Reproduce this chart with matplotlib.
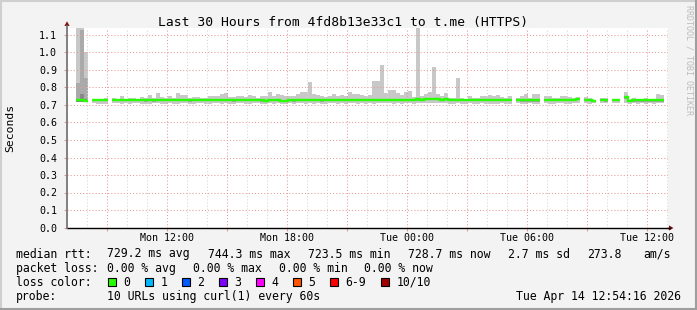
import numpy as np
import pandas as pd
import matplotlib
matplotlib.use("Agg")
import matplotlib.pyplot as plt
import matplotlib.dates as mdates
from matplotlib.lines import Line2D
from matplotlib.patches import Polygon, Rectangle
from matplotlib.ticker import FuncFormatter, MultipleLocator

nan = np.nan

# ── data: 12 minute bins, seconds ────────────────────────────────────────────
BIN_START = "2026-04-13 06:51"
BIN_MINUTES = 12

SMOKE_HI = [
    0.736, nan, nan, 1.138, 1.138, 1.001, nan, 0.736, 0.735, 0.736,
    0.742, nan, 0.742, 0.734, 0.753, 0.734, 0.738, 0.738, 0.734, 0.748,
    0.738, 0.757, 0.742, 0.769, 0.746, 0.742, 0.750, 0.742, 0.769, 0.757,
    0.757, 0.738, 0.746, 0.746, 0.742, 0.742, 0.753, 0.750, 0.750, 0.765,
    0.769, 0.746, 0.746, 0.750, 0.750, 0.746, 0.757, 0.753, 0.742, 0.750,
    0.753, 0.772, 0.753, 0.761, 0.757, 0.750, 0.753, 0.750, 0.765, 0.776,
    0.776, 0.833, 0.765, 0.757, 0.750, 0.746, 0.753, 0.761, 0.750, 0.757,
    0.750, 0.772, 0.761, 0.761, 0.757, 0.750, 0.757, 0.837, 0.837, 0.929,
    0.769, 0.788, 0.788, 0.769, 0.757, 0.776, 0.780, 0.746, 1.138, 0.750,
    0.765, 0.772, 0.917, 0.761, 0.753, 0.769, 0.742, 0.742, 0.856, 0.738,
    0.734, 0.750, 0.742, 0.738, 0.753, 0.750, 0.757, 0.750, 0.757, 0.746,
    0.742, 0.753, nan, 0.738, 0.753, 0.761, 0.742, 0.765, 0.765, nan,
    0.750, 0.750, 0.742, 0.742, 0.753, 0.750, 0.746, 0.738, 0.746, nan,
    0.746, 0.738, 0.727, nan, 0.738, 0.738, nan, 0.734, 0.734, nan,
    0.776, 0.730, 0.742, 0.734, 0.734, 0.742, 0.730, 0.734, 0.765, 0.757,
]

SMOKE_LO = [
    0.728, nan, nan, 0.718, 0.718, 0.716, nan, 0.712, 0.708, 0.704,
    0.705, nan, 0.712, 0.710, 0.708, 0.712, 0.706, 0.710, 0.712, 0.704,
    0.708, 0.704, 0.710, 0.712, 0.706, 0.708, 0.712, 0.708, 0.704, 0.710,
    0.712, 0.708, 0.704, 0.710, 0.712, 0.708, 0.706, 0.712, 0.710, 0.708,
    0.712, 0.706, 0.704, 0.710, 0.712, 0.706, 0.708, 0.712, 0.710, 0.705,
    0.708, 0.712, 0.706, 0.710, 0.704, 0.708, 0.712, 0.706, 0.710, 0.712,
    0.708, 0.712, 0.706, 0.710, 0.704, 0.708, 0.712, 0.710, 0.706, 0.712,
    0.708, 0.710, 0.712, 0.706, 0.712, 0.708, 0.712, 0.708, 0.710, 0.712,
    0.712, 0.710, 0.708, 0.712, 0.706, 0.710, 0.712, 0.708, 0.712, 0.714,
    0.714, 0.712, 0.714, 0.712, 0.710, 0.712, 0.708, 0.706, 0.712, 0.708,
    0.706, 0.710, 0.704, 0.706, 0.710, 0.704, 0.706, 0.708, 0.704, 0.710,
    0.706, 0.708, nan, 0.712, 0.706, 0.704, 0.712, 0.706, 0.708, nan,
    0.712, 0.708, 0.704, 0.710, 0.712, 0.708, 0.706, 0.712, 0.714, nan,
    0.712, 0.708, 0.712, nan, 0.710, 0.712, nan, 0.712, 0.710, nan,
    0.712, 0.706, 0.710, 0.708, 0.712, 0.704, 0.710, 0.708, 0.712, 0.710,
]

MEDIAN = [
    0.731, nan, nan, 0.731, 0.728, 0.725, nan, 0.729, 0.729, 0.728,
    0.729, nan, 0.729, 0.728, 0.730, 0.729, 0.730, 0.730, 0.729, 0.728,
    0.726, 0.730, 0.726, 0.729, 0.729, 0.729, 0.728, 0.729, 0.730, 0.729,
    0.729, 0.726, 0.728, 0.729, 0.729, 0.728, 0.729, 0.729, 0.730, 0.729,
    0.729, 0.728, 0.726, 0.729, 0.729, 0.728, 0.729, 0.729, 0.728, 0.727,
    0.725, 0.728, 0.729, 0.729, 0.724, 0.725, 0.729, 0.726, 0.729, 0.729,
    0.728, 0.729, 0.729, 0.728, 0.726, 0.729, 0.729, 0.728, 0.729, 0.729,
    0.728, 0.729, 0.729, 0.728, 0.729, 0.729, 0.729, 0.728, 0.729, 0.729,
    0.729, 0.730, 0.729, 0.729, 0.729, 0.730, 0.730, 0.730, 0.732, 0.731,
    0.735, 0.735, 0.735, 0.733, 0.731, 0.733, 0.730, 0.729, 0.728, 0.728,
    0.728, 0.728, 0.728, 0.728, 0.728, 0.728, 0.728, 0.728, 0.728, 0.728,
    0.728, 0.728, nan, 0.729, 0.726, 0.726, 0.726, 0.726, 0.726, nan,
    0.729, 0.729, 0.729, 0.729, 0.729, 0.729, 0.729, 0.729, 0.734, nan,
    0.730, 0.730, 0.723, nan, 0.731, 0.727, nan, 0.731, 0.731, nan,
    0.744, 0.725, 0.727, 0.727, 0.727, 0.727, 0.727, 0.727, 0.727, 0.727,
]

# the big spike at the start has denser smoke shades
SPIKE_BINS = [3, 4, 5]
SPIKE_MID_TOP = [0.824, 1.130, 0.852]
SPIKE_DARK_TOP = [0.735, 0.761, 0.735]

TITLE = "Last 30 Hours from 4fd8b13e33c1 to t.me (HTTPS)"
RTT_STATS = ["729.2 ms avg", "744.3 ms max", "723.5 ms min", "728.7 ms now",
             "2.7 ms sd", "273.8", "am/s"]
LOSS_STATS = ["0.00 % avg", "0.00 % max", "0.00 % min", "0.00 % now"]
LOSS_LABELS = ["0", "1", "2", "3", "4", "5", "6-9", "10/10"]
LOSS_COLORS = ["#26ff00", "#00b8ff", "#0059ff", "#7e00ff", "#ff00ff",
               "#ff5500", "#ff0000", "#a10000"]
PROBE = "10 URLs using curl(1) every 60s"
STAMP = "Tue Apr 14 12:54:16 2026"

# ── layout (pixels) ──────────────────────────────────────────────────────────
W, H = 697, 310
PLOT_L, PLOT_R, PLOT_T, PLOT_B = 67, 668, 27.7, 227.5
PX_PER_SEC = 175.0
MONO = "DejaVu Sans Mono"
BG = "#f3f3f3"


def fx(px):
    return px / W


def fy(py):
    return 1 - py / H


fig = plt.figure(figsize=(W / 100, H / 100), dpi=100, facecolor=BG)
ax = fig.add_axes([fx(PLOT_L), fy(PLOT_B), (PLOT_R - PLOT_L) / W,
                   (PLOT_B - PLOT_T) / H])
ax.set_facecolor("white")

t0 = pd.Timestamp(BIN_START)
step = pd.Timedelta(minutes=BIN_MINUTES)
times = pd.date_range(t0, periods=len(MEDIAN), freq=step)
x = mdates.date2num(times)
w = BIN_MINUTES / (24 * 60)

hi = np.array(SMOKE_HI)
lo = np.array(SMOKE_LO)
med = np.array(MEDIAN)

# smoke
ax.bar(x, hi - lo, bottom=lo, width=w, align="edge", color="#c8c8c8",
       linewidth=0, zorder=1)
ax.bar(x, 0.009, bottom=med - 0.007, width=w, align="edge", color="#a2a2a2",
       linewidth=0, zorder=1.1)
for b, mid, dark in zip(SPIKE_BINS, SPIKE_MID_TOP, SPIKE_DARK_TOP):
    ax.bar(x[b], mid - lo[b], bottom=lo[b], width=w, align="edge",
           color="#aaaaaa", linewidth=0, zorder=1.2)
    ax.bar(x[b], dark - lo[b], bottom=lo[b], width=w, align="edge",
           color="#888888", linewidth=0, zorder=1.3)

# median as a step line, broken at gaps
sx = np.column_stack([x, x + w]).ravel()
sy = np.repeat(med, 2)
ax.plot(sx, sy, color="#26ff00", linewidth=1.7, solid_capstyle="butt",
        solid_joinstyle="miter", zorder=3)

# axes range
x_left = pd.Timestamp("2026-04-13 07:00")
x_right = x_left + pd.Timedelta(minutes=3 * (PLOT_R - PLOT_L))
ax.set_xlim(mdates.date2num(x_left), mdates.date2num(x_right))
ax.set_ylim(0, (PLOT_B - PLOT_T) / PX_PER_SEC)

ax.xaxis.set_major_locator(mdates.HourLocator(byhour=range(0, 24, 3)))
ax.xaxis.set_minor_locator(mdates.HourLocator())


def xlabel(v, pos):
    d = mdates.num2date(v)
    return d.strftime("%a %H:%M") if d.hour % 6 == 0 else ""


ax.xaxis.set_major_formatter(FuncFormatter(xlabel))
ax.yaxis.set_major_locator(MultipleLocator(0.1))
ax.yaxis.set_major_formatter(FuncFormatter(lambda v, p: f"{v:.1f}"))

dots = (0, (1, 2))
ax.grid(which="minor", axis="x", color="#d6d6d6", linestyle=dots,
        linewidth=0.75, zorder=2)
ax.grid(which="major", axis="both", color="#e79a9a", linestyle=dots,
        linewidth=0.75, zorder=2)
ax.set_axisbelow(False)

for s in ax.spines.values():
    s.set_visible(False)
ax.tick_params(axis="x", which="major", length=2, pad=2, labelsize=7.2,
               color="#e79a9a")
ax.tick_params(axis="x", which="minor", length=0)
ax.tick_params(axis="y", length=2, pad=5, labelsize=7.2, color="#e79a9a")
for lab in ax.get_xticklabels() + ax.get_yticklabels():
    lab.set_fontfamily(MONO)

# axis lines with arrows
ax.axhline(0, color="black", linewidth=1.0, zorder=4, clip_on=False)
fig.add_artist(Line2D([fx(PLOT_L), fx(PLOT_L)], [fy(PLOT_B), fy(25.5)],
                      color="#777777", linewidth=1.3))
fig.add_artist(Line2D([fx(PLOT_R), fx(PLOT_R + 2)], [fy(PLOT_B + 0.5)] * 2,
                      color="black", linewidth=1.0))
fig.add_artist(Polygon([[fx(PLOT_L - 2.6), fy(26)], [fx(PLOT_L + 2.6), fy(26)],
                        [fx(PLOT_L), fy(21.3)]], closed=True,
                       color="#7f1010", linewidth=0))
fig.add_artist(Polygon([[fx(PLOT_R + 1), fy(PLOT_B - 2.1)],
                        [fx(PLOT_R + 1), fy(PLOT_B + 3.1)],
                        [fx(PLOT_R + 5.5), fy(PLOT_B + 0.5)]], closed=True,
                       color="#7f1010", linewidth=0))

# title, axis label, watermark
fig.text(fx(343.5), fy(22.3), TITLE, ha="center", va="center",
         fontsize=9.4, family=MONO)
fig.text(fx(10), fy(127.5), "Seconds", rotation=90, ha="center",
         va="center", fontsize=8.2, family=MONO)
fig.text(fx(688.5), fy(60), "RRDTOOL / TOBI OETIKER", rotation=270,
         ha="center", va="center", fontsize=6, family=MONO, color="#bcbcbc")

# legend block
LEG = dict(fontsize=8.3, family=MONO, va="center", ha="left")
fig.text(fx(16), fy(254), "median rtt:", **LEG)
for px, s in zip([107, 207.5, 308, 408, 508, 587, 643], RTT_STATS):
    fig.text(fx(px), fy(254), s, **LEG)
fig.text(fx(16), fy(268.5), "packet loss:", **LEG)
for px, s in zip([107, 193, 279, 364], LOSS_STATS):
    fig.text(fx(px), fy(268.5), s, **LEG)
fig.text(fx(16), fy(282.3), "loss color:", **LEG)
box_x = [108, 145, 182, 219, 256, 293, 330, 381]
for bx, lab, col in zip(box_x, LOSS_LABELS, LOSS_COLORS):
    fig.add_artist(Rectangle((fx(bx), fy(286.3)), 8.2 / W, 8 / H,
                             facecolor=col, edgecolor="black", linewidth=0.8))
    fig.text(fx(bx + 15.5), fy(282.3), lab, **LEG)
fig.text(fx(16), fy(296.3), "probe:", **LEG)
fig.text(fx(107), fy(296.3), PROBE, **LEG)
fig.text(fx(681), fy(296.3), STAMP, fontsize=8.3, family=MONO, va="center",
         ha="right")

# 3d-ish frame around the image
fig.add_artist(Line2D([0, 1], [fy(0.8)] * 2, color="#cfcfcf", linewidth=1.5))
fig.add_artist(Line2D([fx(0.8)] * 2, [0, 1], color="#cfcfcf", linewidth=1.5))
fig.add_artist(Line2D([0, 1], [fy(H - 1)] * 2, color="#9e9e9e", linewidth=1.5))
fig.add_artist(Line2D([fx(W - 1)] * 2, [0, 1], color="#9e9e9e", linewidth=1.5))

fig.savefig("out.png", dpi=100, facecolor=BG)
